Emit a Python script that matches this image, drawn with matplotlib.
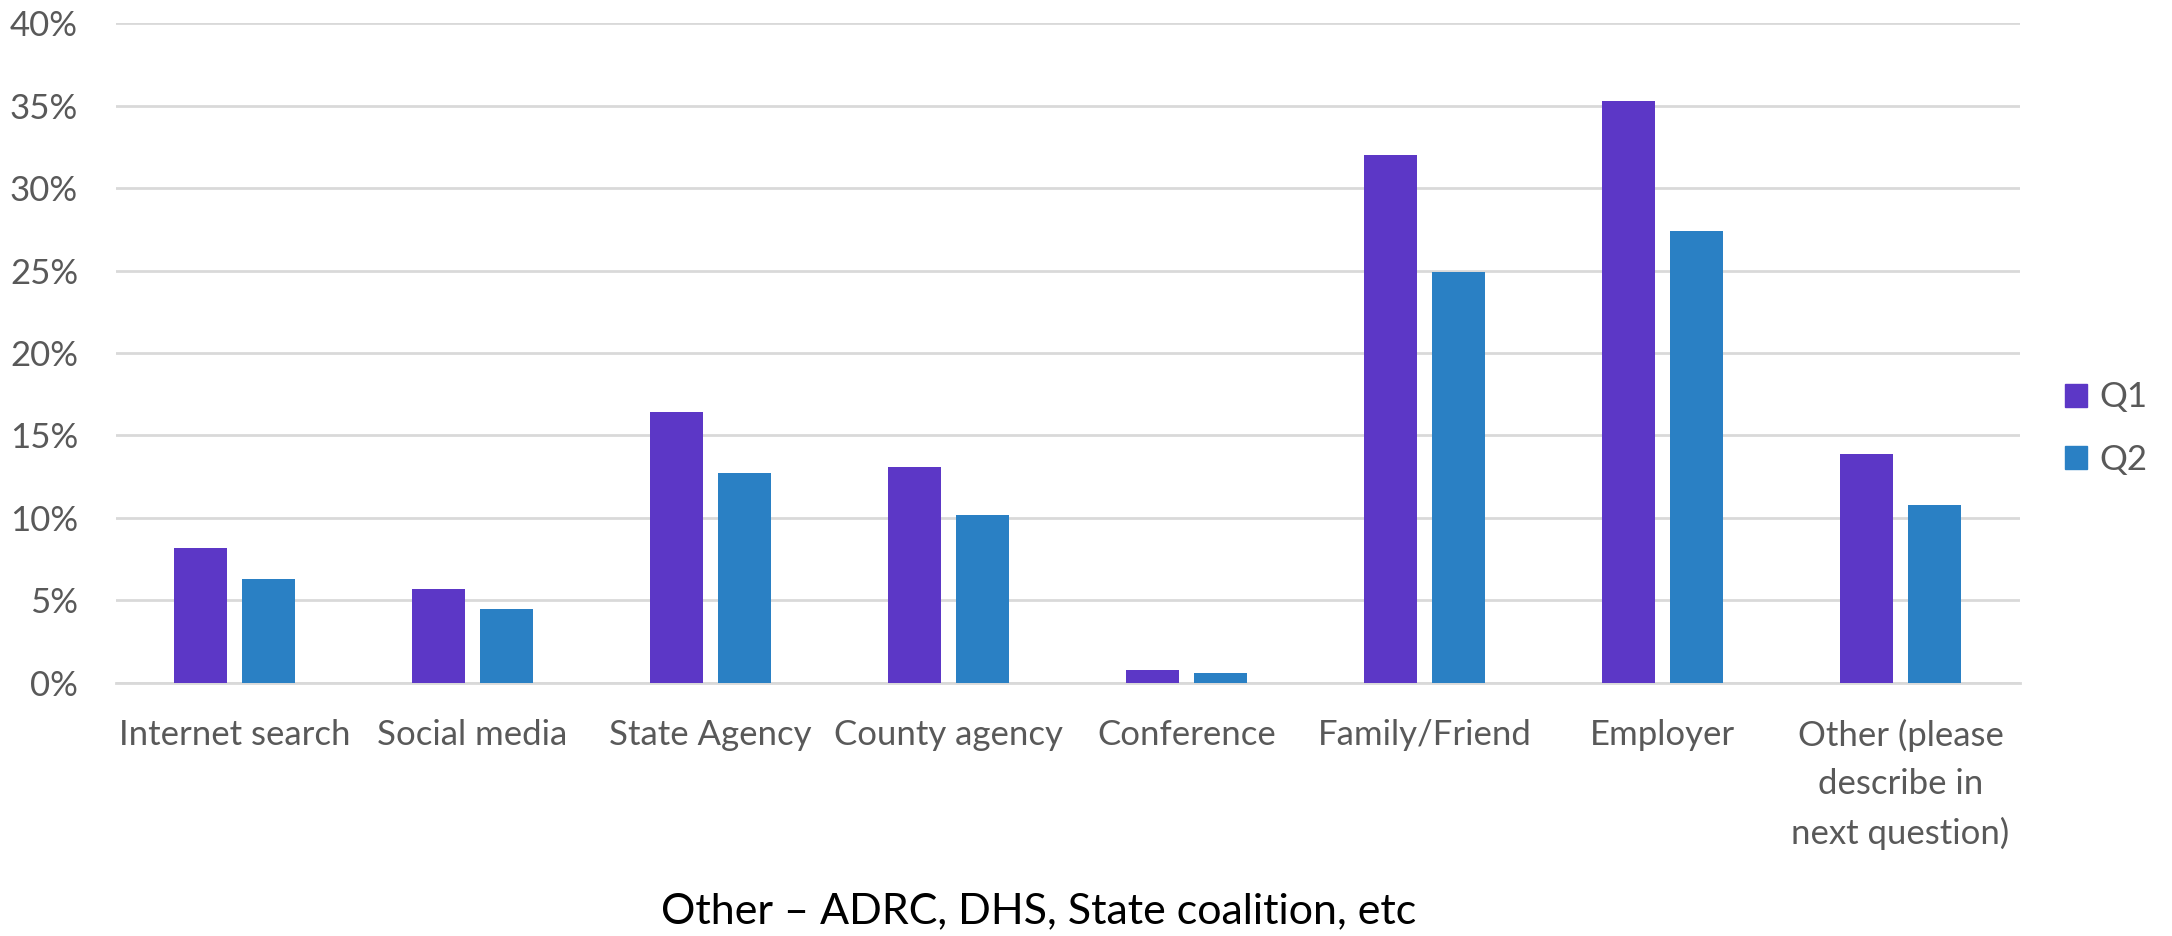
import numpy as np
import matplotlib
matplotlib.use("Agg")
import matplotlib.pyplot as plt
from matplotlib.patches import Patch
from matplotlib.ticker import PercentFormatter

# datos
categorias = ["Internet search", "Social media", "State Agency", "County agency",
              "Conference", "Family/Friend", "Employer",
              "Other (please\ndescribe in\nnext question)"]
q1 = [0.082, 0.057, 0.164, 0.131, 0.008, 0.320, 0.353, 0.139]
q2 = [0.063, 0.045, 0.127, 0.102, 0.006, 0.249, 0.274, 0.108]
series = ["Q1", "Q2"]
nota = "Other \u2013 ADRC, DHS, State coalition, etc"

color_q1 = "#5C37C6"
color_q2 = "#2A80C4"
gris = "#595959"
gris_linea = "#D9D9D9"

plt.rcParams["font.family"] = ["Lato", "DejaVu Sans"]

fig = plt.figure(figsize=(21.72, 9.36), dpi=100)
ax = fig.add_axes([0.0532, 0.2706, 0.8766, 0.7045])

x = np.arange(len(categorias))
ancho = 0.224
sep = 0.06
ax.bar(x - (ancho + sep) / 2, q1, ancho, color=color_q1, label=series[0], zorder=3)
ax.bar(x + (ancho + sep) / 2, q2, ancho, color=color_q2, label=series[1], zorder=3)

ax.set_xlim(-0.5, len(categorias) - 0.5)
ax.set_ylim(0, 0.40)
ax.set_yticks(np.arange(0, 0.41, 0.05))
ax.yaxis.set_major_formatter(PercentFormatter(1.0, decimals=0))
ax.set_xticks(x)
ax.set_xticklabels(categorias, linespacing=1.62)

ax.tick_params(axis="y", length=0, pad=27, labelsize=25, labelcolor=gris)
ax.tick_params(axis="x", length=0, pad=26, labelsize=25, labelcolor=gris)

ax.grid(axis="y", color=gris_linea, linewidth=2, zorder=0)
ax.set_axisbelow(True)
for lado in ["top", "right", "left"]:
    ax.spines[lado].set_visible(False)
ax.spines["bottom"].set_color(gris_linea)
ax.spines["bottom"].set_linewidth(2)

# leyenda a la derecha
handles = [Patch(color=color_q1), Patch(color=color_q2)]
fig.legend(handles, series, loc="center left", bbox_to_anchor=(0.9507, 0.5422),
           frameon=False, fontsize=25, labelcolor=gris, handlelength=0.63,
           handleheight=0.63, handletextpad=0.35, labelspacing=0.87,
           borderpad=0, borderaxespad=0)

fig.text(0.478, 0.014, nota, ha="center", va="baseline", fontsize=31, color="black")

fig.savefig("out.png", dpi=100)
